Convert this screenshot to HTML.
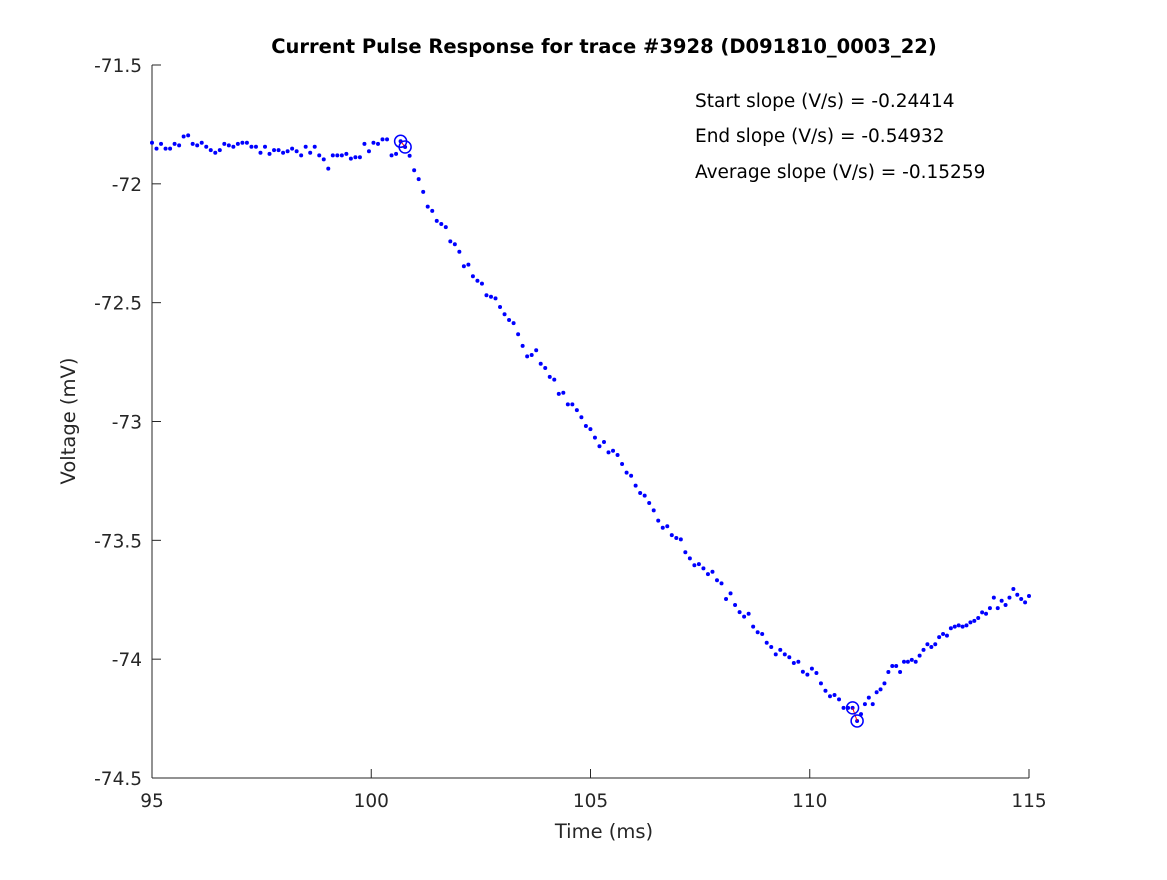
<!DOCTYPE html>
<html><head><meta charset="utf-8"><style>
body{margin:0;background:#fff;}
svg text{font-family:"DejaVu Sans","Liberation Sans",sans-serif;fill:#262626;}
</style></head><body>
<svg id="chart" width="1167" height="875" xmlns="http://www.w3.org/2000/svg">
<rect width="1167" height="875" fill="#fff"/>
<text x="604" y="53" text-anchor="middle" font-size="19.5" font-weight="bold" style="fill:#000">Current Pulse Response for trace #3928 (D091810_0003_22)</text>
<g id="axes"></g>
<g id="marks"></g>
<text x="695" y="107" font-size="18.5" style="fill:#000">Start slope (V/s) = -0.24414</text>
<text x="695" y="142" font-size="18.5" style="fill:#000">End slope (V/s) = -0.54932</text>
<text x="695" y="178" font-size="18.5" style="fill:#000">Average slope (V/s) = -0.15259</text>
<text x="604" y="838" text-anchor="middle" font-size="19.5">Time (ms)</text>
<text transform="translate(75,421) rotate(-90)" text-anchor="middle" font-size="19.5">Voltage (mV)</text>
</svg>
<script>
const xTicks = [95, 100, 105, 110, 115];
const yTicks = [-71.5, -72, -72.5, -73, -73.5, -74, -74.5];
const anchorIdx = [0, 156, 200];
const anchorTime = [95, 111.08, 115];
const voltage = [
-71.827,-71.852,-71.832,-71.852,-71.852,-71.832,-71.838,-71.801,-71.796,-71.832,
-71.838,-71.827,-71.844,-71.858,-71.869,-71.858,-71.832,-71.838,-71.844,-71.832,
-71.827,-71.827,-71.844,-71.844,-71.869,-71.844,-71.874,-71.858,-71.858,-71.869,
-71.863,-71.852,-71.863,-71.880,-71.844,-71.869,-71.844,-71.880,-71.897,-71.936,
-71.880,-71.880,-71.880,-71.874,-71.894,-71.888,-71.888,-71.832,-71.863,-71.827,
-71.832,-71.813,-71.813,-71.880,-71.874,-71.821,-71.845,
-71.882,-71.943,-71.980,-72.034,-72.096,-72.114,-72.156,-72.169,-72.182,-72.242,
-72.254,-72.286,-72.347,-72.340,-72.389,-72.408,-72.420,-72.469,-72.475,-72.482,
-72.518,-72.549,-72.573,-72.586,-72.633,-72.682,-72.726,-72.720,-72.700,-72.757,
-72.775,-72.812,-72.824,-72.884,-72.879,-72.928,-72.928,-72.952,-72.982,-73.019,
-73.032,-73.068,-73.104,-73.086,-73.130,-73.123,-73.141,-73.179,-73.215,-73.228,
-73.270,-73.301,-73.312,-73.343,-73.374,-73.417,-73.447,-73.441,-73.478,-73.490,
-73.496,-73.550,-73.576,-73.605,-73.600,-73.618,-73.642,-73.632,-73.668,-73.681,
-73.747,-73.723,-73.772,-73.802,-73.821,-73.809,-73.863,-73.887,-73.894,-73.931,
-73.949,-73.980,-73.961,-73.980,-73.992,-74.016,-74.011,-74.053,-74.065,-74.040,
-74.058,-74.102,-74.133,-74.156,-74.151,-74.169,-74.205,-74.205,-74.205,-74.260,
-74.231,-74.189,-74.162,-74.189,-74.139,-74.127,-74.102,-74.054,-74.029,-74.029,
-74.054,-74.011,-74.011,-74.003,-74.011,-73.985,-73.961,-73.937,-73.949,-73.937,
-73.907,-73.894,-73.901,-73.870,-73.863,-73.858,-73.863,-73.858,-73.845,-73.839,
-73.827,-73.803,-73.809,-73.785,-73.741,-73.785,-73.754,-73.772,-73.741,-73.705,
-73.729,-73.747,-73.761,-73.734
];
const markerIdx = [55, 56, 155, 156];

const X0=152, X1=1029, Y0=65, Y1=778;
const xMin=95, xMax=115, yMax=-71.5, yMin=-74.5;
function sx(t){return X0+(t-xMin)/(xMax-xMin)*(X1-X0);}
function sy(v){return Y0+(yMax-v)/(yMax-yMin)*(Y1-Y0);}
function timeOf(i){
  for(let k=0;k<anchorIdx.length-1;k++){
    if(i<=anchorIdx[k+1]){
      const f=(i-anchorIdx[k])/(anchorIdx[k+1]-anchorIdx[k]);
      return anchorTime[k]+f*(anchorTime[k+1]-anchorTime[k]);
    }
  }
  return anchorTime[anchorTime.length-1];
}
const NS="http://www.w3.org/2000/svg";
function mk(tag,attrs,parent){const e=document.createElementNS(NS,tag);for(const k in attrs)e.setAttribute(k,attrs[k]);parent.appendChild(e);return e;}
const axes=document.getElementById('axes');
const marks=document.getElementById('marks');

let ax=mk('line',{x1:X0,y1:Y0,x2:X0,y2:Y1,stroke:'#262626','stroke-width':1},axes);


let bx=mk('line',{x1:X0,y1:Y1,x2:X1,y2:Y1,stroke:'#262626','stroke-width':1},axes);



xTicks.forEach(t=>{
  const x=sx(t);
  const l=mk('line',{x1:x,y1:Y1,x2:x,y2:Y1-9,stroke:'#262626'},axes);
  
  
  const tx=mk('text',{x:x,y:Y1+29,'text-anchor':'middle','font-size':18.5},axes);
  tx.textContent=String(t);
  
  
});
yTicks.forEach(v=>{
  const y=sy(v);
  const l=mk('line',{x1:X0,y1:y,x2:X0+9,y2:y,stroke:'#262626'},axes);
  
  
  const tx=mk('text',{x:X0-10,y:y+7,'text-anchor':'end','font-size':18.5},axes);
  tx.textContent=String(v);
  
  
});

voltage.forEach((v,i)=>{
  const c=mk('circle',{cx:sx(timeOf(i)),cy:sy(v),r:2,fill:'#0000ff'},marks);
  
  
});
for(let k=0;k<markerIdx.length;k+=2){
  const a=markerIdx[k], b=markerIdx[k+1];
  const ln=mk('line',{x1:sx(timeOf(a)),y1:sy(voltage[a]),x2:sx(timeOf(b)),y2:sy(voltage[b]),stroke:'#ff0000','stroke-width':1},marks);
  
  
}
markerIdx.forEach(i=>{
  const c=mk('circle',{cx:sx(timeOf(i)),cy:sy(voltage[i]),r:6,fill:'none',stroke:'#0000ff','stroke-width':1.5},marks);
  
  
});
</script>
</body></html>
